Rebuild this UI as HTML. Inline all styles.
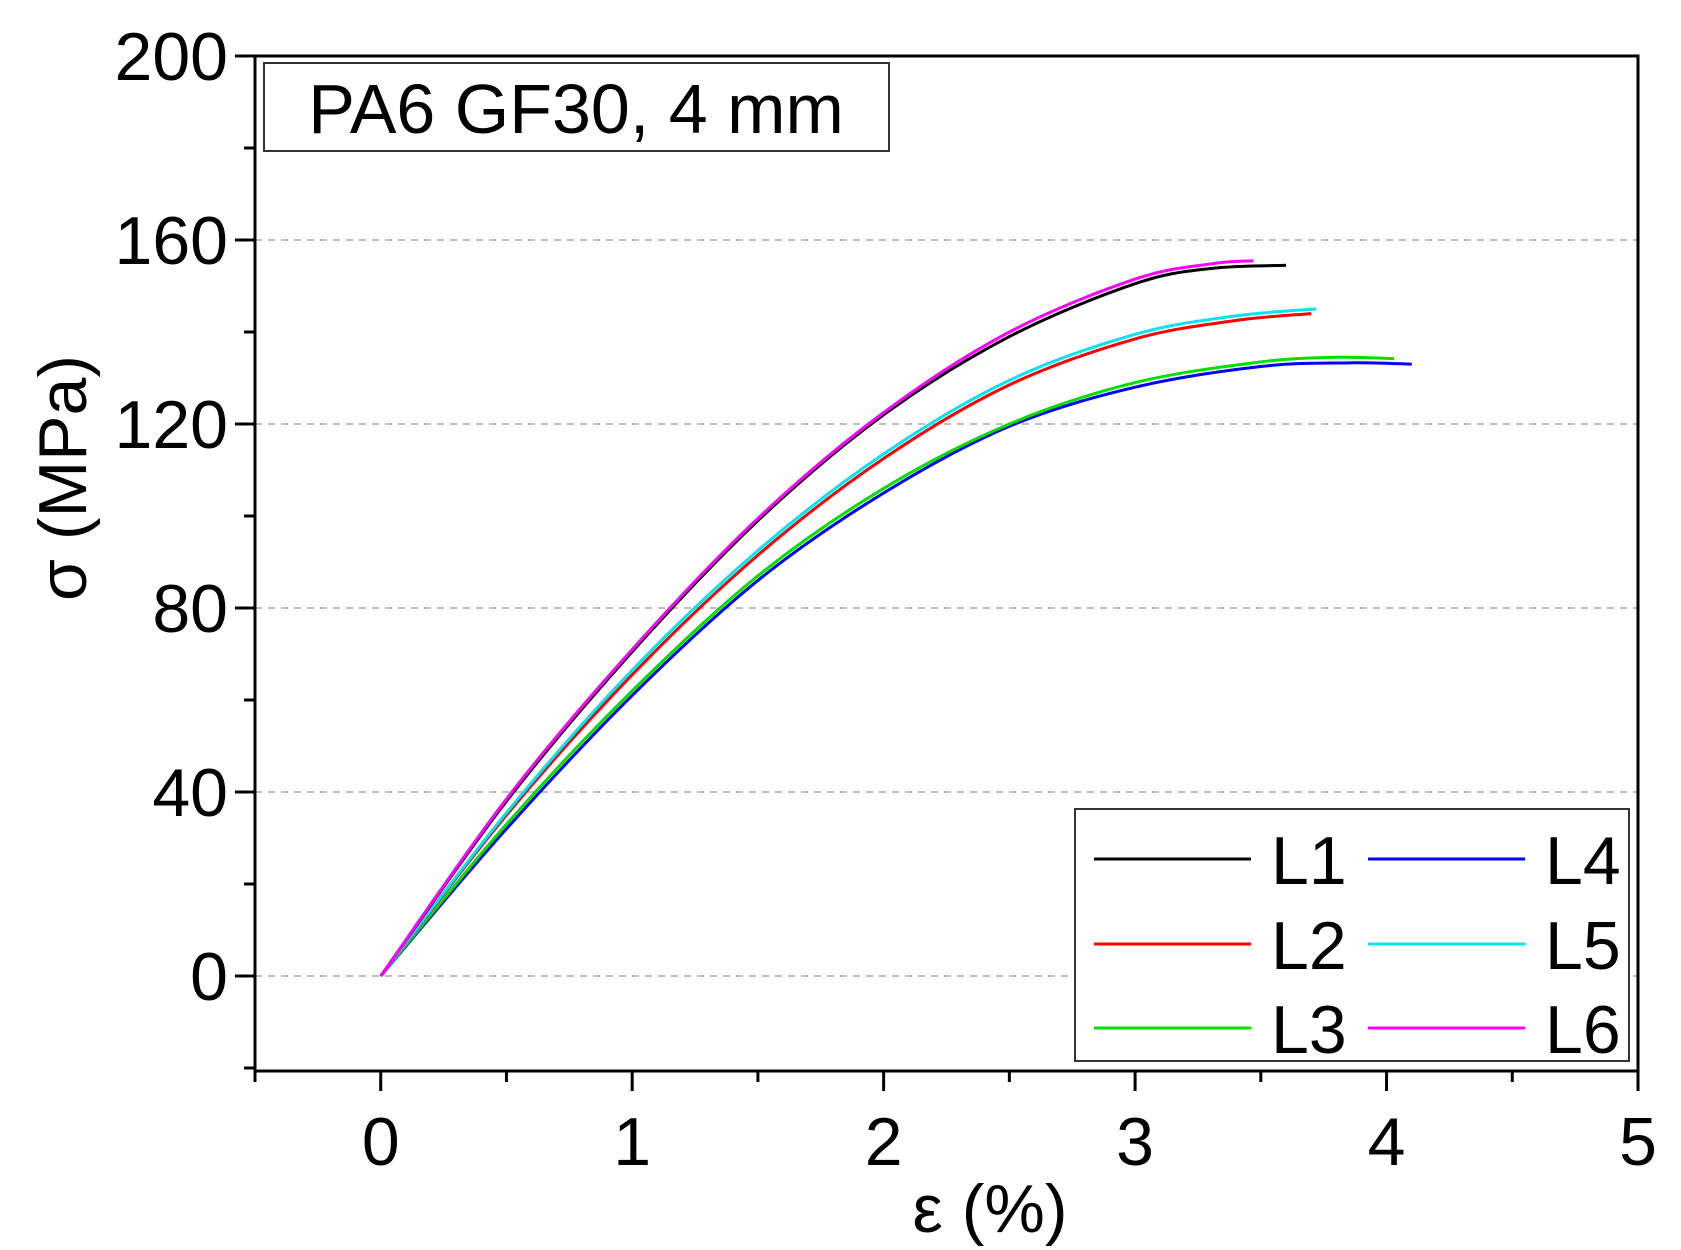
<!DOCTYPE html>
<html><head><meta charset="utf-8"><style>
html,body{margin:0;padding:0;background:#fff;}
svg{display:block;font-family:"Liberation Sans",Arial,sans-serif;}
</style></head><body>
<svg id="chart" width="1681" height="1250" viewBox="0 0 1681 1250">
<g id="grid"></g>
<g id="curves"></g>
<g id="axes"></g>
<rect x="264" y="63" width="625" height="88" fill="#fff" stroke="#333" stroke-width="2"/>
<text x="576" y="133" font-size="70" text-anchor="middle">PA6 GF30, 4 mm</text>
<g id="legend"></g>
<text x="990" y="1232" font-size="68" text-anchor="middle">ε (%)</text>
<text transform="translate(86,478) rotate(-90)" font-size="68" text-anchor="middle">σ (MPa)</text>
</svg>
<script>
const seriesNames=["L1","L2","L3","L4","L5","L6"];
const seriesColors=["#000000","#ff0000","#00e000","#0000ff","#00e5ee","#ff00ff"];
const strainL1=[0,0.5,1,1.5,2,2.5,3,3.3,3.6];
const stressL1=[0,38,70.5,99,122,139,150.5,153.8,154.5];
const strainL2=[0,0.5,1,1.5,2,2.5,3,3.4,3.7];
const stressL2=[0,35,65.5,91.5,112.5,128.5,138.5,142.5,144];
const strainL3=[0,0.5,1,1.5,2,2.5,3,3.5,3.8,4.03];
const stressL3=[0,33,62,87,106,120,129,133.5,134.5,134.2];
const strainL4=[0,0.5,1,1.5,2,2.5,3,3.5,3.85,4.1];
const stressL4=[0,32,61,86,105,119.5,128,132.5,133.3,133];
const strainL5=[0,0.5,1,1.5,2,2.5,3,3.4,3.72];
const stressL5=[0,35.5,66.5,92.5,113.5,129.5,139.5,143.5,145];
const strainL6=[0,0.5,1,1.5,2,2.5,3,3.3,3.47];
const stressL6=[0,38.5,71,99.5,122.5,140,151.5,154.8,155.5];
const xTicks=[0,1,2,3,4,5];
const yTicks=[0,40,80,120,160,200];
const X0=255,X1=1638,Y0=1071,Y1=56,xmin=-0.5,xmax=5,ymin=-20.65,ymax=200;
const sx=v=>X0+(v-xmin)/(xmax-xmin)*(X1-X0);
const sy=v=>Y0-(v-ymin)/(ymax-ymin)*(Y0-Y1);
const NS="http://www.w3.org/2000/svg";
function mk(tag,attrs,parent){const e=document.createElementNS(NS,tag);for(const k in attrs)e.setAttribute(k,attrs[k]);parent.appendChild(e);return e;}
const grid=document.getElementById('grid'),axes=document.getElementById('axes'),curves=document.getElementById('curves'),legend=document.getElementById('legend');
yTicks.forEach(v=>{if(v<200){const l=mk('line',{x1:X0,x2:X1,y1:sy(v),y2:sy(v),stroke:'#aaa','stroke-width':1.5,'stroke-dasharray':'7 6'},grid);

}});
const frame=mk('rect',{x:X0,y:Y1,width:X1-X0,height:Y0-Y1,fill:'none',stroke:'#000','stroke-width':3},axes);


for(let v=-0.5;v<=5.001;v+=0.5){const major=Math.abs(v-Math.round(v))<1e-6;mk('line',{x1:sx(v),x2:sx(v),y1:Y0,y2:Y0+(major?20:11),stroke:'#000','stroke-width':3},axes);}
for(let v=-20;v<=200;v+=20){const major=v%40===0;mk('line',{x1:X0,x2:X0-(major?20:11),y1:sy(v),y2:sy(v),stroke:'#000','stroke-width':3},axes);}
xTicks.forEach(v=>{const t=mk('text',{x:sx(v),y:1165,'font-size':68,'text-anchor':'middle'},axes);t.textContent=v;

});
yTicks.forEach(v=>{const t=mk('text',{x:228,y:sy(v)+24,'font-size':68,'text-anchor':'end'},axes);t.textContent=v;

});
const xs=[strainL1,strainL2,strainL3,strainL4,strainL5,strainL6];
const ys=[stressL1,stressL2,stressL3,stressL4,stressL5,stressL6];
function pathOf(px,py){const p=px.map((x,i)=>[sx(x),sy(py[i])]);let d='M'+p[0][0]+','+p[0][1];
for(let i=0;i<p.length-1;i++){const a=p[Math.max(0,i-1)],b=p[i],c=p[i+1],e=p[Math.min(p.length-1,i+2)];
d+=' C'+(b[0]+(c[0]-a[0])/6)+','+(b[1]+(c[1]-a[1])/6)+' '+(c[0]-(e[0]-b[0])/6)+','+(c[1]-(e[1]-b[1])/6)+' '+c[0]+','+c[1];}return d;}
[3,2,1,4,0,5].forEach(i=>{const p=mk('path',{d:pathOf(xs[i],ys[i]),fill:'none',stroke:seriesColors[i],'stroke-width':3},curves);

});
const lb=mk('rect',{x:1075,y:809,width:554,height:252,fill:'#fff',stroke:'#333','stroke-width':2},legend);


const rowsY=[859,944,1028],colX=[1094,1368];
seriesNames.forEach((n,i)=>{const c=Math.floor(i/3),r=i%3;const g=mk('g',{},legend);


mk('line',{x1:colX[c],x2:colX[c]+157,y1:rowsY[r],y2:rowsY[r],stroke:seriesColors[i],'stroke-width':3},g);
const t=mk('text',{x:colX[c]+177,y:rowsY[r]+25,'font-size':68},g);t.textContent=n;});
</script>
</body></html>
